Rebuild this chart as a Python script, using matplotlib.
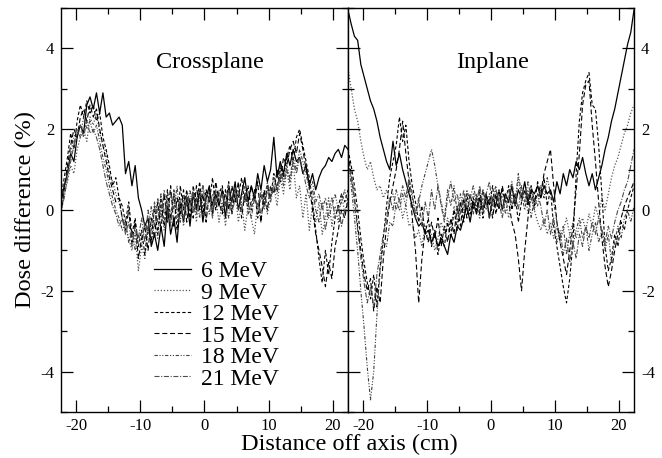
import numpy as np
import matplotlib
matplotlib.use("Agg")
import matplotlib.pyplot as plt
from matplotlib.ticker import MultipleLocator

plt.rcParams['font.family'] = 'serif'
plt.rcParams['font.serif'] = ['Liberation Serif', 'DejaVu Serif']
plt.rcParams['axes.unicode_minus'] = False

# energies shown in the legend
energies = ['6 MeV', '9 MeV', '12 MeV', '15 MeV', '18 MeV', '21 MeV']

# dose difference (%), x spread evenly across -22.4 .. 22.4 cm
cross_6 = [0.2, 0.6, 0.9, 1.4, 1.2, 1.8, 2.1, 1.9, 2.6, 2.8,
           2.5, 2.9, 2.4, 2.9, 2.3, 2.4, 2.1, 2.2, 2.3, 2.1,
           0.9, 1.2, 0.6, 1.1, 0.3, 0.0, -0.4, -0.2, -0.9, -0.6,
           -1.0, -0.4, -0.9, 0.1, -0.6, -0.2, -0.8, 0.2, -0.3, 0.3,
           -0.4, 0.4, 0.0, 0.5, -0.3, 0.3, 0.6, -0.1, 0.4, 0.1,
           0.5, -0.2, 0.6, 0.2, 0.7, 0.0, 0.4, 0.8, 0.2, 0.6,
           0.3, 0.9, 0.5, 1.1, 0.7, 1.0, 1.8, 0.8, 1.2, 0.9,
           1.4, 1.1, 1.5, 1.2, 1.3, 0.9, 1.1, 0.6, 0.9, 0.5,
           0.8, 1.0, 1.1, 1.3, 1.2, 1.4, 1.5, 1.3, 1.6, 1.5]
cross_9 = [-0.1, 0.4, 0.7, 1.1, 0.9, 1.5, 1.8, 2.0, 1.7, 2.3,
           2.1, 2.4, 1.9, 1.6, 1.4, 0.9, 0.7, 0.4, 0.2, -0.2,
           -0.4, -0.7, -1.0, -0.6, -1.5, -0.9, -1.2, -0.5, -0.8, -0.3,
           -0.7, 0.1, -0.5, 0.2, -0.3, 0.4, -0.2, 0.3, -0.4, 0.2,
           0.0, 0.4, -0.3, 0.5, 0.1, -0.2, 0.4, 0.0, 0.3, -0.3,
           0.2, -0.4, 0.3, 0.0, 0.5, -0.3, 0.2, -0.5, 0.1, -0.2,
           -0.6, 0.2, -0.3, 0.4, -0.1, 0.3, 0.6, 0.1, 0.8, 0.4,
           1.0, 0.5, 1.2, 0.3, 0.6, -0.2, 0.4, -0.5, 0.1, -0.3,
           0.2, -0.6, -0.2, 0.3, -0.4, 0.1, -0.3, 0.4, -0.1, 0.2]
cross_12 = [0.3, 0.8, 1.3, 1.9, 1.5, 2.2, 2.6, 2.3, 2.7, 2.4,
            2.6, 2.2, 2.4, 1.8, 1.5, 1.1, 0.6, 0.8, 0.3, 0.1,
            -0.3, 0.2, -0.6, -0.2, -0.9, -0.5, -1.1, -0.4, -0.8, 0.1,
            -0.6, 0.3, -0.4, 0.5, -0.2, 0.4, -0.5, 0.6, 0.0, 0.5,
            -0.2, 0.6, 0.1, 0.7, -0.1, 0.5, 0.2, 0.8, 0.0, 0.4,
            0.6, 0.1, 0.7, -0.1, 0.5, 0.3, 0.8, 0.2, 0.6, 0.0,
            0.5, -0.2, 0.4, 0.1, 0.6, 0.3, 0.9, 0.5, 1.1, 0.8,
            1.3, 1.6, 1.2, 1.8, 2.0, 1.6, 1.2, 0.8, 0.2, -0.5,
            -1.2, -1.8, -1.0, -1.6, -0.8, -0.2, 0.1, 0.4, 0.2, 0.5]
cross_15 = [-0.1, 0.5, 1.1, 1.6, 2.0, 1.8, 2.3, 2.5, 2.2, 2.6,
            2.3, 2.5, 2.0, 1.6, 1.2, 0.8, 0.5, 0.2, 0.3, -0.2,
            -0.5, 0.0, -0.8, -0.3, -1.2, -0.7, -0.4, -1.0, -0.2, -0.7,
            0.2, -0.5, 0.4, -0.3, 0.6, -0.4, 0.3, -0.1, 0.5, -0.3,
            0.3, -0.2, 0.6, 0.0, 0.4, -0.3, 0.5, 0.1, 0.7, 0.2,
            -0.1, 0.5, 0.0, 0.6, 0.2, 0.7, -0.2, 0.4, 0.1, 0.6,
            0.2, 0.7, -0.3, 0.5, 0.0, 0.6, 0.4, 1.0, 0.7, 1.3,
            1.1, 1.5, 1.7, 1.4, 1.9, 1.5, 1.0, 0.6, 0.0, -0.6,
            -1.0, -1.4, -1.9, -1.3, -1.7, -0.9, -0.5, 0.0, -0.2, 0.3]
cross_18 = [0.1, 0.5, 0.9, 1.4, 1.8, 2.0, 1.8, 2.3, 2.0, 2.2,
            1.9, 2.1, 1.7, 1.3, 1.0, 0.6, 0.3, 0.0, -0.2, -0.5,
            -0.3, -0.8, -0.5, -1.0, -0.6, -0.9, -0.3, -0.6, 0.1, -0.4,
            0.3, -0.2, 0.5, -0.1, 0.4, 0.0, 0.6, -0.3, 0.3, 0.1,
            0.5, 0.0, 0.3, -0.2, 0.6, 0.2, -0.1, 0.4, 0.1, 0.5,
            0.0, 0.4, -0.2, 0.3, 0.5, 0.0, 0.3, 0.6, -0.1, 0.2,
            0.4, 0.0, 0.5, 0.2, 0.7, 0.3, 0.8, 0.5, 1.0, 0.7,
            1.1, 0.8, 1.3, 1.0, 1.5, 1.2, 0.9, 0.5, 0.7, 0.2,
            0.4, 0.0, 0.3, -0.2, 0.1, 0.4, 0.0, 0.2, 0.5, 0.1]
cross_21 = [0.0, 0.3, 0.8, 1.2, 1.6, 1.9, 2.1, 1.8, 2.2, 1.9,
            2.0, 1.8, 1.5, 1.1, 0.7, 0.4, 0.1, -0.1, -0.4, -0.2,
            -0.6, -0.3, -0.9, -0.4, -0.7, -0.2, -0.8, 0.0, -0.5, 0.2,
            -0.3, 0.4, -0.1, 0.3, -0.4, 0.5, 0.0, 0.2, -0.2, 0.4,
            0.1, 0.5, -0.1, 0.3, 0.6, 0.0, 0.3, -0.2, 0.5, 0.2,
            0.4, 0.1, 0.6, -0.1, 0.3, 0.5, 0.0, 0.4, 0.2, -0.2,
            0.3, 0.1, 0.4, 0.0, 0.5, 0.2, 0.6, 0.4, 0.9, 0.6,
            1.0, 0.7, 1.2, 0.9, 1.3, 1.0, 0.6, 0.3, 0.5, 0.0,
            -0.3, 0.2, -0.5, 0.0, 0.3, -0.2, 0.1, -0.4, 0.0, 0.2]

in_6 = [4.95, 4.6, 4.3, 4.2, 3.6, 3.3, 3.0, 2.7, 2.5, 2.2,
        1.8, 1.5, 1.2, 1.0, 1.7, 1.1, 1.4, 1.0, 0.7, 0.4,
        0.1, -0.2, -0.4, -0.3, -0.6, -0.5, -0.8, -0.6, -0.9, -0.7,
        -0.9, -1.1, -0.6, -0.8, -0.4, -0.5, -0.2, 0.1, -0.3, 0.2,
        -0.1, 0.3, 0.0, 0.4, -0.2, 0.3, 0.1, 0.5, 0.0, 0.4,
        0.2, 0.6, 0.1, 0.5, 0.3, 0.7, 0.2, 0.5, 0.4, 0.6,
        0.3, 0.6, 0.4, 0.5, 0.2, 0.7, 0.4, 0.9, 0.6, 1.0,
        0.8, 1.2, 1.0, 1.3, 0.9, 0.6, 0.9, 0.5, 0.8, 1.1,
        1.5, 1.8, 2.2, 2.5, 2.9, 3.3, 3.7, 4.1, 4.4, 4.95]
in_9 = [3.5, 3.0, 2.5, 2.2, 1.7, 1.3, 1.0, 1.2, 0.8, 0.5,
        0.6, 0.3, 0.5, 0.2, 0.4, 0.0, 0.3, -0.2, 0.1, -0.4,
        -0.3, -0.7, -0.5, -0.9, -0.4, -0.8, -0.6, -1.0, -0.7, -0.3,
        -0.6, -0.2, -0.5, 0.1, -0.3, 0.2, -0.1, 0.3, 0.0, 0.4,
        0.1, -0.2, 0.3, 0.0, 0.4, -0.1, 0.2, 0.5, 0.0, 0.3,
        -0.2, 0.4, 0.1, 0.8, 0.2, 0.5, -0.1, 0.3, 0.0, -0.3,
        -0.5, -0.2, -0.6, -0.3, -0.7, -0.4, -0.8, -0.5, -0.2, -0.6,
        -0.3, -0.7, -0.4, -0.2, -0.5, -0.1, -0.4, 0.1, -0.2, 0.3,
        0.0, 0.4, 0.8, 1.1, 1.3, 1.6, 1.9, 2.1, 2.4, 2.6]
in_12 = [1.5, 1.1, 0.6, 0.0, -0.7, -1.3, -1.8, -2.2, -1.6, -2.4,
         -1.4, -0.7, 0.1, 0.8, 1.2, 1.6, 2.3, 1.7, 2.1, 1.2,
         0.6, 0.2, -0.3, 0.1, -0.6, -0.2, -0.9, -0.5, -1.1, -0.6,
         -0.9, -0.3, -0.7, 0.0, -0.5, 0.2, -0.3, 0.4, -0.1, 0.3,
         0.0, 0.5, -0.2, 0.4, 0.1, 0.6, -0.1, 0.3, 0.5, 0.2,
         0.6, 0.0, 0.4, -0.3, 0.2, 0.5, 0.1, 0.6, 0.2, 0.4,
         0.3, 0.8, 0.1, 0.5, -0.4, -0.9, -1.4, -1.9, -2.3, -1.7,
         -0.8, 0.9, 2.2, 2.9, 3.2, 3.4, 2.6, 2.5, 1.6, 0.4,
         -0.9, -1.5, -1.2, -0.6, -0.9, -0.3, -0.5, 0.0, 0.3, 0.6]
in_15 = [1.4, 0.9, 0.3, -0.4, -1.0, -1.6, -2.0, -1.7, -2.5, -1.9,
         -2.3, -1.2, -0.4, 0.2, 0.6, 1.0, 1.5, 2.2, 1.4, 0.7,
         -0.2, -1.0, -2.3, -1.2, -0.5, -0.8, -0.3, -0.7, -0.2, -0.9,
         -0.4, -0.8, -0.2, -0.6, 0.1, -0.4, 0.3, -0.2, 0.4, 0.0,
         0.3, -0.1, 0.5, 0.1, 0.3, -0.2, 0.4, 0.0, 0.6, 0.2,
         0.2, -0.3, -0.6, -1.2, -2.0, -1.0, -0.2, 0.5, 0.1, 0.7,
         0.4, 0.9, 1.2, 1.5, 0.6, -0.3, -0.8, -1.2, -1.6, -1.0,
         -0.4, 0.5, 1.4, 2.6, 3.1, 3.2, 2.1, 1.2, 0.2, -0.7,
         -1.4, -1.9, -1.5, -1.0, -0.6, -0.2, 0.1, 0.3, 0.5, 0.7]
in_18 = [1.3, 0.6, -0.2, -1.0, -2.0, -2.9, -3.9, -4.7, -4.0, -2.6,
         -1.5, -0.8, -0.9, -0.3, -0.4, 0.2, 0.0, 0.4, 0.1, 0.7,
         0.3, -0.2, 0.2, 0.6, 0.9, 1.2, 1.5, 1.1, 0.6, 0.2,
         -0.2, 0.5, 0.1, 0.6, -0.1, 0.4, 0.0, 0.5, 0.2, -0.1,
         0.4, 0.0, 0.5, 0.2, -0.2, 0.3, 0.6, 0.1, 0.4, -0.1,
         0.3, 0.7, 0.2, 0.9, 0.4, 0.0, 0.5, -0.2, 0.3, 0.1,
         0.6, 0.3, 0.8, 0.4, 0.2, -0.3, -0.7, -0.4, -1.1, -0.6,
         -0.9, -0.5, -0.2, -0.7, -0.4, -1.0, -0.6, -0.3, -0.8, -0.5,
         -1.0, -0.6, -1.3, -0.8, -0.4, -0.7, -0.2, 0.0, -0.3, 0.1]
in_21 = [1.2, 0.8, 0.2, -0.5, -1.2, -1.8, -2.3, -1.9, -2.4, -1.6,
         -1.1, -0.6, -0.2, 0.3, 0.0, 0.5, 0.2, 0.6, 0.3, 0.8,
         0.4, -0.1, 0.3, -0.4, 0.2, -0.2, 0.5, 0.0, 0.6, 0.1,
         -0.3, 0.3, 0.7, 0.2, 0.4, -0.1, 0.5, 0.0, 0.3, 0.6,
         0.2, 0.6, 0.0, 0.4, 0.7, 0.1, 0.5, 0.2, -0.2, 0.3,
         0.5, 0.1, 0.4, 0.0, 0.6, 0.2, 0.7, 0.3, 0.0, 0.4,
         0.1, -0.4, 0.0, -0.6, -0.2, -0.8, -0.5, -1.1, -0.7, -1.3,
         -0.8, -1.2, -0.6, -0.9, -0.4, -0.7, -0.3, -0.6, -0.2, -0.5,
         -0.8, -0.4, -0.7, -0.3, 0.0, 0.2, 0.5, 0.7, 1.1, 1.5]

crossplane = [cross_6, cross_9, cross_12, cross_15, cross_18, cross_21]
inplane = [in_6, in_9, in_12, in_15, in_18, in_21]

styles = [
    dict(ls='-', color='black', lw=0.9),
    dict(ls=(0, (1, 1.5)), color='0.35', lw=0.9),
    dict(ls=(0, (3, 2)), color='black', lw=0.8),
    dict(ls=(0, (4.5, 2.5)), color='black', lw=0.8),
    dict(ls=(0, (3, 1.5, 1, 1.5, 1, 1.5)), color='0.25', lw=0.8),
    dict(ls=(0, (4.5, 1.5, 1, 1.5)), color='0.3', lw=0.8),
]

fig = plt.figure(figsize=(6.62, 4.58), dpi=100)
axL = fig.add_axes([61 / 662, 1 - 412 / 458, 287 / 662, 404 / 458])
axR = fig.add_axes([348 / 662, 1 - 412 / 458, 286 / 662, 404 / 458])

for ax, data in ((axL, crossplane), (axR, inplane)):
    for vals, st, lab in zip(data, styles, energies):
        x = np.linspace(-22.4, 22.4, len(vals))
        ax.plot(x, vals, label=lab, **st)
    ax.set_xlim(-22.4, 22.4)
    ax.set_ylim(-5, 5)
    ax.xaxis.set_major_locator(MultipleLocator(10))
    ax.xaxis.set_minor_locator(MultipleLocator(5))
    ax.yaxis.set_major_locator(MultipleLocator(2))
    ax.yaxis.set_minor_locator(MultipleLocator(1))
    ax.tick_params(which='both', direction='in', top=True, bottom=True,
                   left=True, right=True, width=0.9, labelsize=12, pad=5)
    ax.tick_params(axis='x', which='both', pad=4)
    ax.tick_params(which='major', length=8.5)
    ax.tick_params(which='minor', length=4.5)
    for sp in ax.spines.values():
        sp.set_linewidth(1.0)

axR.tick_params(labelleft=False, labelright=True)

axL.text(0.8, 3.65, 'Crossplane', fontsize=17.5, ha='center', va='center')
axR.text(0.3, 3.65, 'Inplane', fontsize=17.5, ha='center', va='center')

axL.legend(loc='upper left', bbox_to_anchor=(0.324, 0.375), frameon=False,
           fontsize=17, borderpad=0, borderaxespad=0, labelspacing=0.0,
           handlelength=1.55, handletextpad=0.42)

fig.text(25 / 662, 1 - 210 / 458, 'Dose difference (%)', rotation=90,
         ha='center', va='center', fontsize=17.5)
fig.text(349 / 662, 1 - 444 / 458, 'Distance off axis (cm)',
         ha='center', va='center', fontsize=17.5)

fig.savefig('out.png', dpi=100)
